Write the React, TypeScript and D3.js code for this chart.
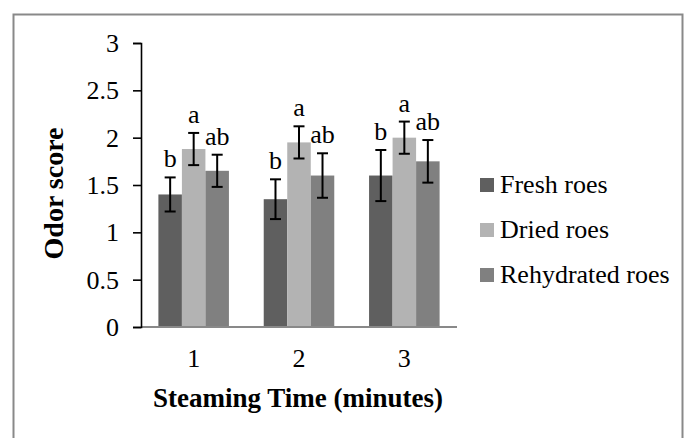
import { useEffect, useRef } from 'react'
import * as d3 from 'd3'

// chart data
const categories = ['1', '2', '3']
const seriesNames = ['Fresh roes', 'Dried roes', 'Rehydrated roes']
const seriesColors = ['#5f5f5f', '#b3b3b3', '#808080']
const freshValues = [1.4, 1.35, 1.6]
const driedValues = [1.88, 1.95, 2.0]
const rehydratedValues = [1.65, 1.6, 1.75]
const freshErrors = [0.18, 0.21, 0.27]
const driedErrors = [0.17, 0.17, 0.17]
const rehydratedErrors = [0.17, 0.235, 0.225]
const freshLetters = ['b', 'b', 'b']
const driedLetters = ['a', 'a', 'a']
const rehydratedLetters = ['ab', 'ab', 'ab']
const yTicks = [0, 0.5, 1, 1.5, 2, 2.5, 3]

const FONT = "'Liberation Serif', 'Times New Roman', serif"

type Sel = d3.Selection<SVGGElement, unknown, null, undefined>

function label(
  g: Sel,
  x: number,
  y: number,
  txt: string,
  opts: { size: number; anchor?: string; weight?: string; rotate?: number }
) {
  const rot = opts.rotate ? ` rotate(${opts.rotate})` : ''
  return g
    .append('text')
    .attr('transform', `translate(${x},${y})${rot}`)
    .attr('text-anchor', opts.anchor ?? 'start')
    .attr('font-family', FONT)
    .attr('font-size', `${opts.size}px`)
    .attr('font-weight', opts.weight ?? 'normal')
    .attr('fill', '#000')
    .text(txt)
}

export default function App() {
  const svgRef = useRef<SVGSVGElement>(null)

  useEffect(() => {
    if (!svgRef.current) return
    const root = d3.select(svgRef.current)
    root.selectAll('*').remove()
    const svg = root.append('g') as Sel

    const plot = { left: 141, right: 457, top: 43, bottom: 327 }

    // outer frame
    svg
      .append('rect')
      .attr('x', 13.5)
      .attr('y', 14.5)
      .attr('width', 669)
      .attr('height', 440)
      .attr('fill', '#fff')
      .attr('stroke', '#898989')
      .attr('stroke-width', 2)

    const x = d3.scaleBand<string>().domain(categories).range([plot.left, plot.right]).padding(0)
    const xInner = d3
      .scaleBand<string>()
      .domain(seriesNames)
      .range([0, x.bandwidth()])
      .paddingInner(0)
      .paddingOuter(0.74)
    const y = d3.scaleLinear().domain([0, 3]).range([plot.bottom, plot.top])

    const series = [
      { name: seriesNames[0], values: freshValues, errors: freshErrors, letters: freshLetters, color: seriesColors[0] },
      { name: seriesNames[1], values: driedValues, errors: driedErrors, letters: driedLetters, color: seriesColors[1] },
      { name: seriesNames[2], values: rehydratedValues, errors: rehydratedErrors, letters: rehydratedLetters, color: seriesColors[2] },
    ]

    const rows = series.flatMap(s =>
      categories.map((c, i) => ({
        cat: c,
        name: s.name,
        value: s.values[i],
        err: s.errors[i],
        letter: s.letters[i],
        color: s.color,
      }))
    )

    // bars
    svg
      .append('g')
      .selectAll('rect')
      .data(rows)
      .enter()
      .append('rect')
      .attr('x', d => (x(d.cat) as number) + (xInner(d.name) as number))
      .attr('y', d => y(d.value))
      .attr('width', xInner.bandwidth())
      .attr('height', d => y(0) - y(d.value))
      .attr('fill', d => d.color)

    // x axis line (gray)
    svg
      .append('line')
      .attr('x1', plot.left)
      .attr('x2', plot.right)
      .attr('y1', y(0))
      .attr('y2', y(0))
      .attr('stroke', '#898989')
      .attr('stroke-width', 2)

    // y axis, labels drawn separately
    const yAxis = svg
      .append('g')
      .attr('transform', `translate(${plot.left},0)`)
      .call(d3.axisLeft(y).tickValues(yTicks).tickSize(8).tickFormat(() => ''))
    yAxis.selectAll('.domain').attr('stroke', '#000').attr('stroke-width', 1.6)
    yAxis.selectAll('.tick line').attr('stroke', '#000').attr('stroke-width', 1.6)

    const yLab = svg.append('g') as Sel
    yTicks.forEach(t => label(yLab, 119, y(t) + 9, String(t), { size: 26, anchor: 'end' }))

    // error bars
    const cx = (d: { cat: string; name: string }) =>
      (x(d.cat) as number) + (xInner(d.name) as number) + xInner.bandwidth() / 2
    const eb = svg.append('g').attr('stroke', '#000').attr('stroke-width', 2)
    rows.forEach(d => {
      const xc = cx(d)
      const top = y(d.value + d.err)
      const bot = y(d.value - d.err)
      eb.append('line').attr('x1', xc).attr('x2', xc).attr('y1', top).attr('y2', bot)
      eb.append('line').attr('x1', xc - 5.5).attr('x2', xc + 5.5).attr('y1', top).attr('y2', top)
      eb.append('line').attr('x1', xc - 5.5).attr('x2', xc + 5.5).attr('y1', bot).attr('y2', bot)
    })

    // significance letters
    const letters = svg.append('g') as Sel
    rows.forEach(d => label(letters, cx(d), y(d.value + d.err) - 10, d.letter, { size: 26, anchor: 'middle' }))

    // x tick labels
    const xLab = svg.append('g') as Sel
    categories.forEach(c =>
      label(xLab, (x(c) as number) + x.bandwidth() / 2, 367, c, { size: 26, anchor: 'middle' })
    )

    // axis titles
    label(svg, 298, 407, 'Steaming Time (minutes)', { size: 27, anchor: 'middle', weight: 'bold' })
    label(svg, 63, 193.5, 'Odor score', { size: 28, anchor: 'middle', weight: 'bold', rotate: -90 })

    // legend
    const legend = svg
      .append('g')
      .selectAll('g')
      .data(series)
      .enter()
      .append('g')
      .attr('transform', (_, i) => `translate(480,${178 + i * 45})`)
    legend.append('rect').attr('width', 14).attr('height', 14).attr('fill', d => d.color)
    legend
      .append('text')
      .attr('x', 20)
      .attr('y', 15)
      .attr('font-family', FONT)
      .attr('font-size', '26px')
      .attr('fill', '#000')
      .text(d => d.name)
  }, [])

  return (
    <div style={{ position: 'absolute', left: 0, top: 0 }}>
      <svg ref={svgRef} width={690} height={438} style={{ display: 'block' }}></svg>
    </div>
  )
}
